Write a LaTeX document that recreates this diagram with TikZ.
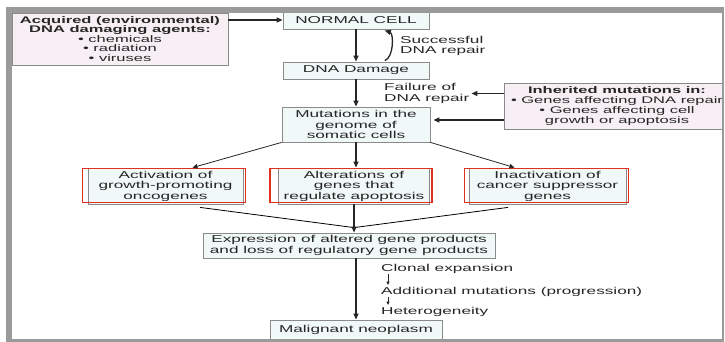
\documentclass[tikz,border=0pt]{standalone}
\usepackage{fontspec}
\setmainfont{Liberation Sans}[FakeStretch=1.72]
\usepackage{tikz}
\usetikzlibrary{calc,arrows.meta}
\definecolor{framegray}{HTML}{9A9A9A}
\definecolor{boxgray}{HTML}{8A8A8A}
\definecolor{pinkfill}{HTML}{F8EFF4}
\definecolor{cyanfill}{HTML}{F1F8F8}
\definecolor{redline}{HTML}{E0301E}
\definecolor{inkgray}{HTML}{262626}

\begin{document}
\begin{tikzpicture}[x=1pt,y=-1pt,font=\fontsize{10}{10.5}\selectfont,text=inkgray]
      \tikzstyle{cell box}=[draw=boxgray,fill=cyanfill,inner sep=0,align=center,line width=0.8]
      \tikzstyle{agent box}=[draw=boxgray,fill=pinkfill,inner sep=0,align=center,line width=0.8]
      \tikzstyle{note}=[inner sep=0,align=left,anchor=west]
      \tikzstyle{flow}=[-{Triangle[length=6pt,width=5pt]},line width=1.3,draw=inkgray]
      \tikzstyle{thin flow}=[-{Triangle[length=5pt,width=4.5pt]},line width=0.8,draw=inkgray]
      \tikzstyle{small flow}=[-{Triangle[length=3.5pt,width=3pt]},line width=0.9,draw=inkgray]
      \useasboundingbox (0,0) rectangle (725,342);
      \begin{scope}
      \clip (0,0) rectangle (722,342);
      % boxes
      \node[agent box,minimum width=216,minimum height=52,font=\fontsize{9.6}{9.5}\selectfont] (acq) at (120,39)
          {\textbf{Acquired (environmental)}\\\textbf{DNA damaging agents:}\\• chemicals\\• radiation\\• viruses};
      \node[cell box,minimum width=146,minimum height=18] (normal) at (356,20) {NORMAL CELL};
      \node[cell box,minimum width=146,minimum height=17] (damage) at (356,70.5) {DNA Damage};
      \node[cell box,minimum width=148,minimum height=35] (mut) at (356,124.5) {Mutations in the\\genome of\\somatic cells};
      \node[agent box,minimum width=226,minimum height=46,font=\fontsize{9.6}{9.8}\selectfont] (inh) at (617,106)
          {\textbf{Inherited mutations in:}\\• Genes affecting DNA repair\\• Genes affecting cell\\growth or apoptosis};
      \node[cell box,minimum width=155,minimum height=36] (act) at (165.5,186) {Activation of\\growth-promoting\\oncogenes};
      \node[cell box,minimum width=151,minimum height=36] (alt) at (354,186) {Alterations of\\genes that\\regulate apoptosis};
      \node[cell box,minimum width=157,minimum height=36] (inact) at (547.5,186) {Inactivation of\\cancer suppressor\\genes};
      \node[cell box,minimum width=292,minimum height=25] (expr) at (349,245.5) {Expression of altered gene products\\and loss of regulatory gene products};
      \node[cell box,minimum width=172,minimum height=20] (mal) at (356,330) {Malignant neoplasm};
      \foreach \n/\dx in {act/5,alt/8,inact/4}
          \draw[redline,line width=1.6] ([shift={(-\dx pt,-1pt)}]\n.north west) rectangle ([shift={(2pt,2pt)}]\n.south east);
      % side texts
      \node[note] (repair) at (400,46) {Successful\\DNA repair};
      \node[note] (fail) at (384,93.5) {Failure of\\DNA repair};
      \node[note] (clonal) at (381,269) {Clonal expansion};
      \node[note] (addmut) at (381,292) {Additional mutations (progression)};
      \node[note] (hetero) at (381,312) {Heterogeneity};
      % connectors
      \draw[flow] (acq.east |- normal.west) -- (normal.west);
      \draw[flow] (normal) -- (damage);
      \draw[flow,shorten <=3pt,shorten >=3pt] ([xshift=26pt]damage.north) to[bend right=70] ([xshift=26pt]normal.south);
      \draw[flow] (damage) -- (mut);
      \draw[flow,shorten >=2pt] (inh.west |- fail.east) -- (fail.east);
      \draw[flow,shorten >=3pt] ([yshift=-14pt]inh.west) coordinate (inh2) -- (inh2 -| mut.east);
      \draw[thin flow] (mut.south west) -- ([xshift=27pt]act.north);
      \draw[flow] (mut.south) -- (mut.south |- alt.north);
      \draw[thin flow] (mut.south east) -- ([xshift=-33pt]inact.north);
      \coordinate (join) at ($(alt.south |- expr.north)+(0,-5)$);
      \draw[line width=0.8] ([xshift=34.5pt,yshift=-3pt]act.south) -- (join);
      \draw[line width=0.8] ([xshift=-39.5pt,yshift=-3pt]inact.south) -- (join);
      \draw[flow] (alt.south) -- (alt.south |- expr.north);
      \draw[flow] (expr.south -| mal.north) -- (mal.north);
      \draw[small flow] ($(clonal.west)+(7,5)$) -- ($(addmut.west)+(7,-7)$);
      \draw[small flow] ($(addmut.west)+(7,5)$) -- ($(hetero.west)+(7,-7)$);
      \end{scope}
      % frame
      \fill[framegray] (6,7) rectangle (723,13);
      \fill[framegray] (6,7) rectangle (12,342);
      \fill[framegray] (6,339) rectangle (723,342);
      \fill[framegray] (721.5,7) rectangle (723.5,342);
\end{tikzpicture}
\end{document}
